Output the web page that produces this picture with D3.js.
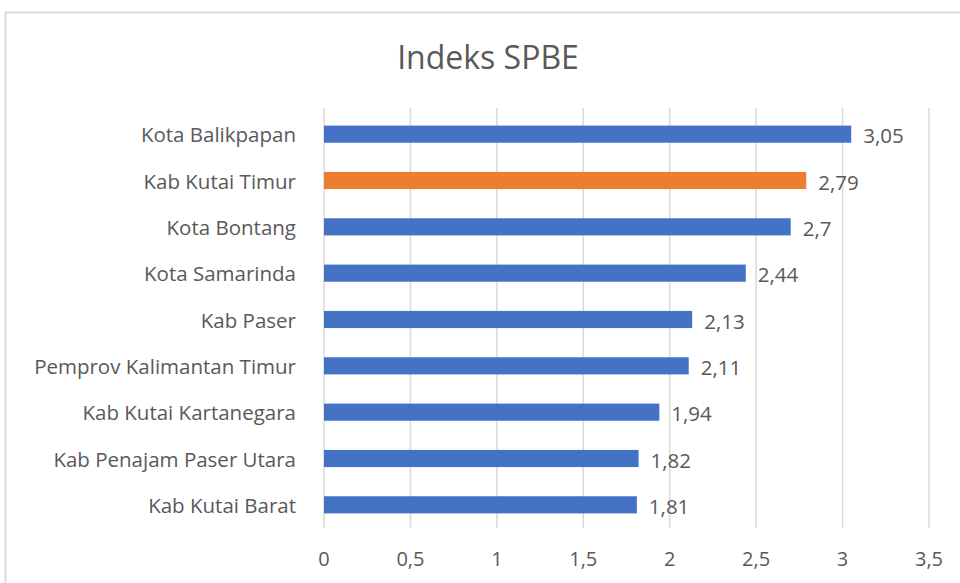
<!DOCTYPE html>
<html>
<head>
<meta charset="utf-8">
<script src="https://cdn.jsdelivr.net/npm/d3@7"></script>
<style>
  body { margin: 0; background: #fff; }
  text { font-family: "Open Sans", Lato, sans-serif; fill: #595959; }
</style>
</head>
<body>
<div id="chart"></div>
<script>
const regions = ["Kota Balikpapan", "Kab Kutai Timur", "Kota Bontang", "Kota Samarinda", "Kab Paser",
  "Pemprov Kalimantan Timur", "Kab Kutai Kartanegara", "Kab Penajam Paser Utara", "Kab Kutai Barat"];
const scores = [3.05, 2.79, 2.7, 2.44, 2.13, 2.11, 1.94, 1.82, 1.81];
const ticks = [0, 0.5, 1, 1.5, 2, 2.5, 3, 3.5];
const highlight = "Kab Kutai Timur";

let svgDimensions = [960, 583];
let svg = d3.select('#chart')
  .append('svg')
    .attr('width', svgDimensions[0])
    .attr('height', svgDimensions[1]);

// chart area border (cropped at right/bottom like the screenshot)
svg.append('rect')
  .attr('x', 5.5).attr('y', 12.5)
  .attr('width', 1000).attr('height', 1000)
  .attr('fill', 'none')
  .attr('stroke', '#d9d9d9')
  .attr('stroke-width', 2);

svg.append('text')
  .attr('x', 488).attr('y', 69)
  .attr('text-anchor', 'middle')
  .style('font-size', '32px')
  .text('Indeks SPBE');

let x = d3.scaleLinear()
  .domain([0, 3.5])
  .range([324, 929]);

let y = d3.scaleBand()
  .domain(regions)
  .range([111, 528])
  .paddingInner(0.63)
  .paddingOuter(0.315);

// gridlines
svg.append('g')
  .selectAll('line')
  .data(ticks)
  .enter()
  .append('line')
  .attr('x1', d => x(d)).attr('x2', d => x(d))
  .attr('y1', 108).attr('y2', 528)
  .attr('stroke', '#d9d9d9')
  .attr('stroke-width', 1.5);

svg.append('g')
  .selectAll('text')
  .data(ticks)
  .enter()
  .append('text')
  .attr('x', d => x(d))
  .attr('y', 566)
  .attr('text-anchor', 'middle')
  .style('font-size', '20px')
  .text(d => String(d).replace('.', ','));

svg.append('g')
  .selectAll('rect')
  .data(regions)
  .enter()
  .append('rect')
  .attr('x', x(0))
  .attr('y', d => y(d))
  .attr('width', (d, i) => x(scores[i]) - x(0))
  .attr('height', y.bandwidth())
  .attr('fill', d => d === highlight ? '#ed7d31' : '#4472c4');

svg.append('g')
  .selectAll('text')
  .data(regions)
  .enter()
  .append('text')
  .attr('x', (d, i) => x(scores[i]) + 12)
  .attr('y', d => y(d) + y.bandwidth() / 2 + 9)
  .style('font-size', '20.5px')
  .text((d, i) => String(scores[i]).replace('.', ','));

svg.append('g')
  .selectAll('text')
  .data(regions)
  .enter()
  .append('text')
  .attr('x', 296)
  .attr('y', d => y(d) + y.bandwidth() / 2 + 8)
  .attr('text-anchor', 'end')
  .style('font-size', '20.5px')
  .text(d => d);
</script>
</body>
</html>
